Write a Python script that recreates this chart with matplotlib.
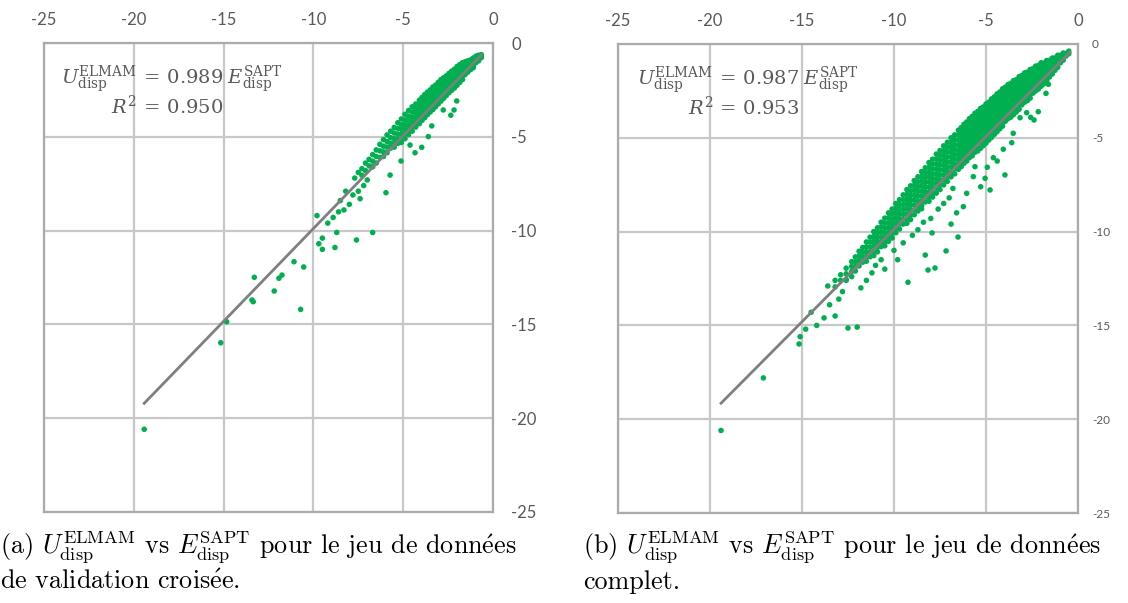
import numpy as np
import matplotlib
matplotlib.use('Agg')
import matplotlib.pyplot as plt

plt.rcParams['mathtext.fontset'] = 'cm'
plt.rcParams['axes.unicode_minus'] = False

# axes ticks
ticks = [-25, -20, -15, -10, -5, 0]
tick_labels = ['-25', '-20', '-15', '-10', '-5', '0']

# (a) validation croisee : bande dense, colonnes (E_SAPT, [U_ELMAM...])
band_a = [
    (-0.65, [-0.62, -0.70, -0.78]),
    (-0.80, [-0.65, -0.75, -0.85, -0.95]),
    (-0.95, [-0.70, -0.82, -0.95, -1.05]),
    (-1.10, [-0.80, -0.95, -1.08, -1.20, -1.32]),
    (-1.25, [-0.90, -1.02, -1.15, -1.28, -1.42]),
    (-1.40, [-0.95, -1.10, -1.25, -1.40, -1.55]),
    (-1.55, [-1.00, -1.18, -1.35, -1.50, -1.68]),
    (-1.70, [-1.05, -1.22, -1.40, -1.58, -1.78, -1.95]),
    (-1.85, [-1.15, -1.35, -1.52, -1.70, -1.88, -2.10]),
    (-2.00, [-1.25, -1.45, -1.65, -1.85, -2.05, -2.25]),
    (-2.15, [-1.40, -1.58, -1.78, -1.98, -2.18, -2.40]),
    (-2.30, [-1.50, -1.70, -1.90, -2.10, -2.30, -2.52]),
    (-2.45, [-1.62, -1.82, -2.02, -2.22, -2.42, -2.65]),
    (-2.60, [-1.75, -1.95, -2.15, -2.35, -2.55, -2.80]),
    (-2.75, [-1.85, -2.05, -2.28, -2.48, -2.70, -2.95]),
    (-2.90, [-1.95, -2.18, -2.40, -2.62, -2.85, -3.10]),
    (-3.05, [-2.10, -2.32, -2.55, -2.78, -3.00, -3.25]),
    (-3.20, [-2.25, -2.45, -2.68, -2.90, -3.15, -3.40]),
    (-3.35, [-2.35, -2.58, -2.80, -3.05, -3.30, -3.55]),
    (-3.50, [-2.50, -2.72, -2.95, -3.18, -3.42, -3.68]),
    (-3.65, [-2.62, -2.85, -3.08, -3.32, -3.58, -3.82]),
    (-3.80, [-2.75, -3.00, -3.25, -3.48, -3.72, -3.98]),
    (-3.95, [-2.90, -3.12, -3.38, -3.62, -3.88, -4.12]),
    (-4.10, [-3.05, -3.30, -3.55, -3.80, -4.05, -4.30]),
    (-4.30, [-3.25, -3.50, -3.75, -4.00, -4.25, -4.48]),
    (-4.50, [-3.40, -3.68, -3.95, -4.20, -4.45, -4.70]),
    (-4.70, [-3.60, -3.90, -4.15, -4.40, -4.65, -4.88]),
    (-4.90, [-3.80, -4.10, -4.35, -4.60, -4.85, -5.10]),
    (-5.10, [-4.05, -4.35, -4.60, -4.85, -5.10, -5.30]),
    (-5.30, [-4.25, -4.55, -4.85, -5.10, -5.35]),
    (-5.50, [-4.50, -4.80, -5.10, -5.35, -5.55]),
    (-5.70, [-4.70, -5.05, -5.35, -5.60]),
    (-5.90, [-4.90, -5.25, -5.55, -5.85]),
    (-6.10, [-5.15, -5.50, -5.80, -6.05]),
    (-6.30, [-5.40, -5.75, -6.10]),
    (-6.50, [-5.70, -6.05, -6.40]),
    (-6.70, [-5.95, -6.30, -6.60]),
    (-6.90, [-6.20, -6.55]),
    (-7.10, [-6.40, -6.80]),
    (-7.30, [-6.70, -7.05]),
    (-7.50, [-6.90]),
    (-7.70, [-7.20]),
]
# (a) points isoles
sapt_a = [-2.02, -2.17, -2.35, -2.77, -3.41, -3.60, -3.97, -4.34, -5.12, -5.73,
          -5.96, -4.62, -7.00, -7.20, -7.50, -7.40, -7.80, -8.00, -8.20, -8.30,
          -8.60, -8.50, -8.90, -9.20, -9.80, -7.60, -6.70, -8.80, -9.50, -9.70,
          -9.50, -8.70, -13.29, -11.08, -10.54, -11.92, -11.75, -12.18, -13.42,
          -13.35, -10.71, -14.83, -15.16, -19.42]
elmam_a = [-3.09, -3.57, -3.85, -3.57, -4.42, -4.99, -5.56, -5.85, -6.29, -7.04,
           -7.98, -5.44, -7.30, -7.60, -7.90, -8.30, -8.10, -8.60, -7.90, -8.90,
           -9.00, -8.40, -9.30, -9.60, -9.20, -10.50, -10.10, -10.90, -11.00, -10.70,
           -10.40, -10.10, -12.49, -11.66, -11.94, -12.54, -12.37, -13.22, -13.70,
           -13.79, -14.20, -14.86, -15.98, -20.59]

# (b) jeu complet : bande dense
band_b = [
    (-0.50, [-0.38, -0.52]),
    (-0.65, [-0.50, -0.64]),
    (-0.80, [-0.48, -0.66, -0.86]),
    (-0.95, [-0.60, -0.80, -1.00]),
    (-1.10, [-0.60, -0.82, -1.04, -1.24]),
    (-1.25, [-0.74, -0.96, -1.18, -1.40]),
    (-1.40, [-0.75, -0.98, -1.21, -1.44, -1.60]),
    (-1.55, [-0.88, -1.12, -1.36, -1.60, -1.76]),
    (-1.70, [-0.88, -1.12, -1.36, -1.60, -1.84, -1.96]),
    (-1.85, [-1.02, -1.26, -1.50, -1.74, -1.98, -2.12]),
    (-2.00, [-1.00, -1.25, -1.50, -1.75, -2.00, -2.25]),
    (-2.15, [-1.14, -1.38, -1.62, -1.88, -2.12, -2.40]),
    (-2.30, [-1.18, -1.44, -1.70, -1.96, -2.22, -2.50]),
    (-2.45, [-1.32, -1.58, -1.84, -2.10, -2.36, -2.62]),
    (-2.60, [-1.36, -1.62, -1.88, -2.14, -2.40, -2.66, -2.88]),
    (-2.75, [-1.50, -1.76, -2.02, -2.28, -2.54, -2.80, -3.02]),
    (-2.90, [-1.54, -1.80, -2.06, -2.32, -2.58, -2.84, -3.10]),
    (-3.05, [-1.68, -1.94, -2.20, -2.46, -2.72, -2.98, -3.24]),
    (-3.20, [-1.74, -2.00, -2.26, -2.52, -2.78, -3.04, -3.30, -3.48]),
    (-3.35, [-1.90, -2.16, -2.42, -2.68, -2.94, -3.20, -3.46, -3.62]),
    (-3.50, [-1.95, -2.21, -2.47, -2.73, -2.99, -3.25, -3.51, -3.76]),
    (-3.65, [-2.10, -2.36, -2.62, -2.88, -3.14, -3.40, -3.66, -3.90]),
    (-3.80, [-2.16, -2.42, -2.68, -2.94, -3.20, -3.46, -3.72, -3.98]),
    (-3.95, [-2.30, -2.56, -2.82, -3.08, -3.34, -3.60, -3.86, -4.12]),
    (-4.10, [-2.39, -2.65, -2.91, -3.17, -3.43, -3.69, -3.95, -4.21, -4.38]),
    (-4.25, [-2.56, -2.82, -3.08, -3.34, -3.60, -3.86, -4.12, -4.38, -4.52]),
    (-4.40, [-2.66, -2.92, -3.18, -3.44, -3.70, -3.96, -4.22, -4.48, -4.68]),
    (-4.55, [-2.82, -3.08, -3.34, -3.60, -3.86, -4.12, -4.38, -4.64, -4.82]),
    (-4.70, [-2.93, -3.19, -3.45, -3.71, -3.97, -4.23, -4.49, -4.75, -4.98]),
    (-4.85, [-3.10, -3.36, -3.62, -3.88, -4.14, -4.40, -4.66, -4.92, -5.12]),
    (-5.00, [-3.20, -3.46, -3.72, -3.98, -4.24, -4.50, -4.76, -5.02, -5.28]),
    (-5.15, [-3.36, -3.62, -3.88, -4.14, -4.40, -4.66, -4.92, -5.18, -5.42]),
    (-5.30, [-3.44, -3.70, -3.96, -4.22, -4.48, -4.74, -5.00, -5.26, -5.56]),
    (-5.45, [-3.60, -3.86, -4.12, -4.38, -4.64, -4.90, -5.16, -5.42, -5.70]),
    (-5.60, [-3.69, -3.95, -4.21, -4.47, -4.73, -4.99, -5.25, -5.51, -5.77]),
    (-5.75, [-3.86, -4.12, -4.38, -4.64, -4.90, -5.16, -5.42, -5.68, -5.96]),
    (-5.90, [-3.98, -4.24, -4.50, -4.76, -5.02, -5.28, -5.54, -5.80, -6.06]),
    (-6.05, [-4.16, -4.42, -4.68, -4.94, -5.20, -5.46, -5.72, -5.98, -6.24]),
    (-6.20, [-4.28, -4.54, -4.80, -5.06, -5.32, -5.58, -5.84, -6.10, -6.36]),
    (-6.35, [-4.46, -4.72, -4.98, -5.24, -5.50, -5.76, -6.02, -6.28, -6.54]),
    (-6.50, [-4.60, -4.86, -5.12, -5.38, -5.64, -5.90, -6.16, -6.42, -6.68]),
    (-6.70, [-4.84, -5.10, -5.36, -5.62, -5.88, -6.14, -6.40, -6.66, -6.92]),
    (-6.90, [-5.00, -5.26, -5.52, -5.78, -6.04, -6.30, -6.56, -6.82, -7.08]),
    (-7.10, [-5.24, -5.50, -5.76, -6.02, -6.28, -6.54, -6.80, -7.06, -7.32]),
    (-7.30, [-5.43, -5.69, -5.95, -6.21, -6.47, -6.73, -6.99, -7.25, -7.51]),
    (-7.50, [-5.68, -5.94, -6.20, -6.46, -6.72, -6.98, -7.24, -7.50, -7.76]),
    (-7.70, [-5.87, -6.13, -6.39, -6.65, -6.91, -7.17, -7.43, -7.69, -7.95]),
    (-7.90, [-6.14, -6.40, -6.66, -6.92, -7.18, -7.44, -7.70, -7.96, -8.16]),
    (-8.10, [-6.32, -6.58, -6.84, -7.10, -7.36, -7.62, -7.88, -8.14, -8.38]),
    (-8.30, [-6.60, -6.86, -7.12, -7.38, -7.64, -7.90, -8.16, -8.42]),
    (-8.50, [-6.80, -7.06, -7.32, -7.58, -7.84, -8.10, -8.36, -8.62, -8.78]),
    (-8.70, [-7.08, -7.34, -7.60, -7.86, -8.12, -8.38, -8.64, -8.90]),
    (-8.90, [-7.28, -7.54, -7.80, -8.06, -8.32, -8.58, -8.84, -9.10]),
    (-9.10, [-7.56, -7.82, -8.08, -8.34, -8.60, -8.86, -9.12, -9.36]),
    (-9.30, [-7.76, -8.02, -8.28, -8.54, -8.80, -9.06, -9.32, -9.56]),
    (-9.50, [-8.04, -8.30, -8.56, -8.82, -9.08, -9.34, -9.60]),
    (-9.70, [-8.30, -8.56, -8.82, -9.08, -9.34, -9.60, -9.86]),
    (-9.90, [-8.50, -8.76, -9.02, -9.28, -9.54, -9.80, -10.06]),
    (-10.10, [-8.80, -9.06, -9.32, -9.58, -9.84, -10.10, -10.34]),
    (-10.30, [-9.00, -9.26, -9.52, -9.78, -10.04, -10.30, -10.52]),
    (-10.50, [-9.28, -9.54, -9.80, -10.06, -10.32, -10.58, -10.76]),
    (-10.70, [-9.50, -9.76, -10.02, -10.28, -10.54, -10.80]),
    (-10.90, [-9.80, -10.06, -10.32, -10.58, -10.84, -11.08]),
    (-11.10, [-10.00, -10.26, -10.52, -10.78, -11.04, -11.28]),
    (-11.30, [-10.30, -10.56, -10.82, -11.08, -11.34]),
    (-11.50, [-10.55, -10.81, -11.07, -11.33, -11.58]),
    (-11.70, [-10.85, -11.11, -11.37, -11.63]),
    (-11.90, [-11.05, -11.31, -11.57, -11.83]),
    (-12.10, [-11.35, -11.61, -11.87, -12.10]),
    (-12.30, [-11.60, -11.86, -12.12]),
    (-12.60, [-11.95, -12.25, -12.55]),
    (-12.90, [-12.30, -12.60]),
    (-13.20, [-12.60, -12.95]),
]
# (b) points isoles
sapt_b = [-2.16, -2.39, -2.57, -1.74, -1.61, -3.60, -4.06, -4.39, -4.93, -5.05,
          -5.60, -5.29, -6.05, -6.23, -5.69, -4.60, -3.52, -3.15, -2.79,
          -19.40, -17.10, -15.16, -15.10, -14.80, -12.50, -12.00, -9.24, -8.15,
          -7.77, -6.52, -7.17, -8.30, -7.93, -4.78, -3.97,
          -14.50, -14.20, -13.80, -13.50, -13.20, -13.00, -12.80, -12.60, -13.60,
          -12.30, -11.80, -11.50, -11.20, -11.00, -10.70, -10.50, -10.00, -9.80,
          -9.50, -9.00, -8.70, -8.40, -8.00, -7.60, -7.30, -7.00, -6.80, -6.60, -6.90]
elmam_b = [-3.61, -4.05, -3.91, -2.63, -2.15, -5.26, -5.61, -6.24, -6.57, -7.16,
           -6.54, -7.61, -7.96, -8.67, -7.07, -6.06, -4.76, -3.93, -3.66,
           -20.60, -17.80, -15.99, -15.60, -15.20, -15.14, -15.09, -12.70, -12.05,
           -11.94, -10.29, -11.03, -11.25, -10.07, -7.78, -6.98,
           -14.30, -15.00, -14.60, -13.90, -14.50, -13.60, -13.20, -12.60, -12.90,
           -12.40, -13.00, -12.60, -12.20, -11.80, -11.50, -12.00, -11.00, -11.50,
           -10.60, -10.20, -9.90, -9.50, -9.30, -8.80, -8.50, -8.20, -7.70, -9.00, -9.60]

# droites de tendance
slopes = ['0.989', '0.987']
r2 = ['0.950', '0.953']
line_x = [(-19.42, -0.63), (-19.40, -0.45)]

E_ACUTE = r'$\acute{\mathrm{e}}$'
captions = [
    ('(a) $U_{\\rm disp}^{\\rm ELMAM}$ vs $E_{\\rm disp}^{\\rm SAPT}$ pour le jeu de donn' + E_ACUTE + 'es',
     'de validation crois' + E_ACUTE + 'e.'),
    ('(b) $U_{\\rm disp}^{\\rm ELMAM}$ vs $E_{\\rm disp}^{\\rm SAPT}$ pour le jeu de donn' + E_ACUTE + 'es',
     'complet.'),
]


def expand(columns):
    xs, ys = [], []
    for x, col in columns:
        for y in col:
            xs.append(x)
            ys.append(y)
    return xs, ys


fig = plt.figure(figsize=(11.28, 6.03), dpi=100, facecolor='white')
W, H = 1128, 603
# positions en pixels (gauche, haut, droite, bas)
boxes = [(44, 43, 493, 512), (618, 44, 1078, 513)]
axes = []
for l, t, r, b in boxes:
    axes.append(fig.add_axes([l / W, 1 - b / H, (r - l) / W, (b - t) / H]))

green = '#00B050'
grey_txt = '#595959'

xa, ya = expand(band_a)
xb, yb = expand(band_b)
data = [(xa + sapt_a, ya + elmam_a), (xb + sapt_b, yb + elmam_b)]

for i, ax in enumerate(axes):
    x, y = data[i]
    ax.scatter(x, y, s=16, color=green, edgecolors='none', zorder=3)
    lx = np.array(line_x[i])
    ax.plot(lx, float(slopes[i]) * lx, color='#7F7F7F', lw=2, zorder=4)

    ax.set_xlim(-25, 0)
    ax.set_ylim(-25, 0)
    ax.xaxis.tick_top()
    ax.yaxis.tick_right()
    ax.set_xticks(ticks)
    ax.set_xticklabels(tick_labels, fontfamily='Lato')
    ax.set_yticks(ticks)
    ax.set_yticklabels(tick_labels, fontfamily='Lato')
    ax.tick_params(axis='x', length=0, labelsize=12, labelcolor=grey_txt, pad=11)
    ysize = 12 if i == 0 else 8.5
    ax.tick_params(axis='y', length=0, labelsize=ysize, labelcolor=grey_txt,
                   pad=13 if i == 0 else 10)
    ax.grid(True, color='#C8C8C8', lw=1.6, zorder=0)
    ax.set_axisbelow(True)
    for sp in ax.spines.values():
        sp.set_color('#ABABAB')
        sp.set_linewidth(1.6)

    # equation
    kw = dict(transform=ax.transAxes, va='baseline', fontsize=14,
              color=grey_txt, math_fontfamily='dejavuserif')
    ax.text(0.207, 0.912, r'$U_{\mathrm{disp}}^{\mathrm{ELMAM}}$', ha='right', **kw)
    ax.text(0.214, 0.912, r'$=\,%s\;E_{\mathrm{disp}}^{\mathrm{SAPT}}$' % slopes[i],
            ha='left', **kw)
    ax.text(0.207, 0.850, r'$R^2$', ha='right', **kw)
    ax.text(0.214, 0.850, r'$=\,%s$' % r2[i], ha='left', **kw)

# legendes
cap_x = [0.0, 583 / W]
for i in range(2):
    fig.text(cap_x[i], 1 - 554 / H, captions[i][0], fontsize=18.8,
             family=['cmr10', 'DejaVu Serif'], ha='left', va='baseline')
    fig.text(cap_x[i], 1 - 589 / H, captions[i][1], fontsize=18.8,
             family=['cmr10', 'DejaVu Serif'], ha='left', va='baseline')

fig.savefig('out.png', dpi=100, facecolor='white')
